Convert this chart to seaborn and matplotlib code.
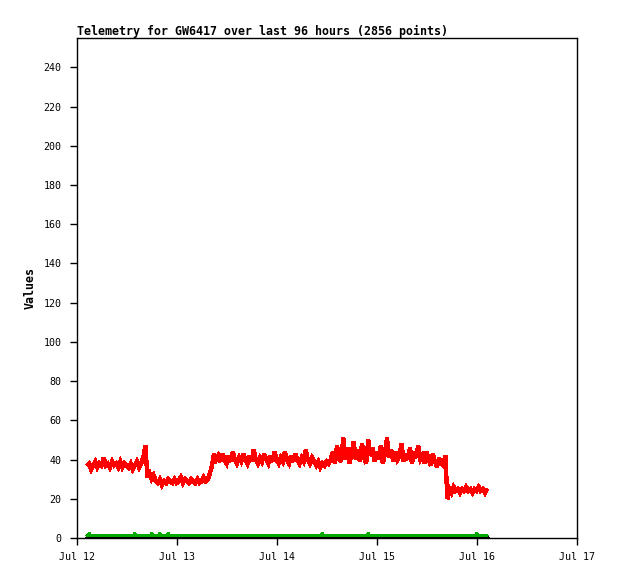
import numpy as np
import pandas as pd
import seaborn as sns
import matplotlib
matplotlib.use('Agg')
import matplotlib.pyplot as plt
import matplotlib.dates as mdates

sns.set_theme(style='ticks')
plt.rcParams['font.family'] = ['DejaVu Sans Mono']

title = 'Telemetry for GW6417 over last 96 hours (2856 points)'
start = pd.Timestamp('2024-07-12 02:24')

# red series, one reading every 30 minutes
red_a = [37, 38, 35, 37, 39, 36, 38, 37, 41, 37, 38, 36, 39, 37, 38, 36, 39, 36,
         38, 37, 36, 38, 35, 37, 39, 36, 38, 41]
red_spike = [47]
red_b = [31, 33, 30, 32, 29, 28, 30, 27, 29, 28, 30, 29, 28, 30, 28, 29, 31, 28,
         30, 29, 28, 30, 29, 28, 30, 28, 29, 31, 29, 30]
red_ramp = [33, 37, 43]
red_c = [40, 42, 39, 43, 40, 38, 42, 39, 44, 40, 38, 41, 39, 43, 40, 38, 42, 39,
         45, 40, 38, 41, 39, 43, 40, 38, 42, 39, 44, 40, 38, 41, 39, 44, 40, 38,
         42, 39, 43, 40, 38, 41, 39, 45, 40, 38, 41, 39]
red_dip = [37, 39, 36, 38, 37, 39, 38]
red_d = [40, 44, 38, 47, 41, 39, 51, 40, 46, 38, 43, 49, 40, 45, 39, 48, 41, 38,
         50, 42, 46, 39, 44, 40, 47, 38, 43, 51, 41, 45, 39, 44, 40, 42, 48, 39,
         43, 40, 46, 38, 44, 41, 47, 40]
red_e = [42, 38, 44, 40, 37, 43, 39, 36, 41, 38, 37, 42]
red_drop = [20]
red_f = [25, 23, 26, 24, 25, 23, 25, 24, 26, 24, 25, 23, 25, 24, 26, 24, 25, 23, 25]

red_values = red_a + red_spike + red_b + red_ramp + red_c + red_dip + red_d + red_e + red_drop + red_f

# green series: flat with a few small blips (hours from start)
green_hours = [0, 0.25, 0.5, 0.75, 11.25, 11.5, 11.75, 15.25, 15.5, 15.75,
               17.25, 17.5, 17.75, 19.25, 19.5, 19.75, 56.25, 56.5, 56.75,
               67.25, 67.5, 67.75, 93.25, 93.5, 93.75, 96]
green_values = [1.2, 1.2, 2.4, 1.2, 1.2, 2.4, 1.2, 1.2, 2.4, 1.2,
                1.2, 2.4, 1.2, 1.2, 2.4, 1.2, 1.2, 2.4, 1.2,
                1.2, 2.4, 1.2, 1.2, 2.4, 1.2, 1.2]

# black series sitting on zero
black_hours = [0, 96]
black_values = [0, 0]

y_ticks = [0, 20, 40, 60, 80, 100, 120, 140, 160, 180, 200, 220, 240]
x_ticks = ['2024-07-12', '2024-07-13', '2024-07-14', '2024-07-15', '2024-07-16', '2024-07-17']

red_df = pd.DataFrame({'time': pd.date_range(start, periods=len(red_values), freq='30min'),
                       'value': red_values})
green_df = pd.DataFrame({'time': start + pd.to_timedelta(green_hours, unit='h'),
                         'value': green_values})
black_df = pd.DataFrame({'time': start + pd.to_timedelta(black_hours, unit='h'),
                         'value': black_values})

fig = plt.figure(figsize=(6.18, 5.79), dpi=100)
ax = fig.add_axes([77 / 618, 41 / 579, 500 / 618, 500 / 579])

sns.lineplot(data=black_df, x='time', y='value', color='black', linewidth=2.5,
             antialiased=False, ax=ax)
sns.lineplot(data=green_df, x='time', y='value', color='#00aa00', linewidth=1.5,
             antialiased=False, ax=ax)
sns.lineplot(data=red_df, x='time', y='value', color='#ff0000', linewidth=2.4,
             antialiased=False, solid_joinstyle='miter', solid_capstyle='butt', ax=ax)

ax.set_xlim(pd.Timestamp(x_ticks[0]), pd.Timestamp(x_ticks[-1]))
ax.set_ylim(0, 255)
ax.set_xticks([pd.Timestamp(t) for t in x_ticks])
ax.xaxis.set_major_formatter(mdates.DateFormatter('%b %d'))
ax.set_yticks(y_ticks)

for s in ax.spines.values():
    s.set_visible(True)
    s.set_color('black')
    s.set_linewidth(1)

ax.tick_params(direction='out', length=5, width=1, color='black', labelsize=7.2,
               labelcolor='black')
ax.tick_params(axis='y', pad=6)
ax.tick_params(axis='x', pad=5)

ax.set_xlabel('')
ax.set_ylabel('Values', fontsize=8.4, fontweight='bold', color='black')
ax.yaxis.set_label_coords(-0.08, 0.5)
ax.set_title(title, loc='left', fontsize=8.4, fontweight='bold', pad=2, color='black')

fig.savefig('out.png', dpi=100)
